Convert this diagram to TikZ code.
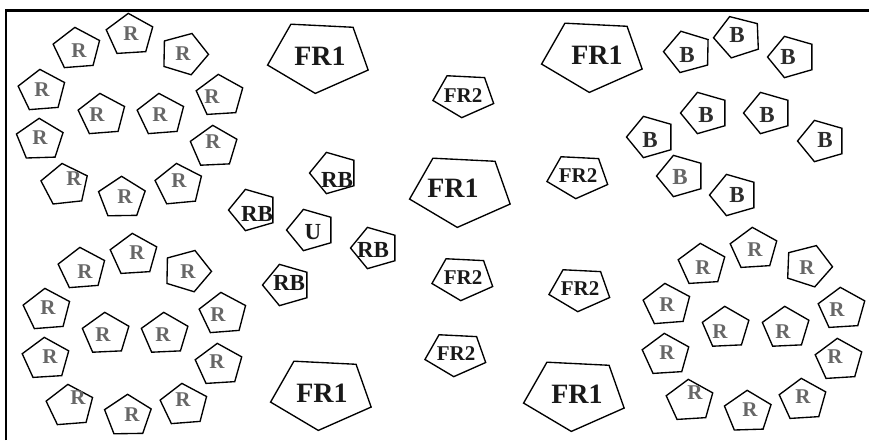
\documentclass[tikz,border=0pt]{standalone}
\usepackage{fontspec}
\setmainfont{Liberation Serif}

\definecolor{rgray}{HTML}{676767}
\definecolor{bgray}{HTML}{2C2C2C}

\tikzset{
	pentline/.style={draw=black, line width=1.35pt, line join=miter},
	smallpent/.style={xscale=24.5, yscale=21.7},
	flatpent/.style={xscale=32, yscale=22.7},
	bigpent/.style={xscale=53, yscale=37.5},
	rlab/.style={inner sep=0pt, text=rgray, font=\fontsize{21}{21}\selectfont\bfseries},
	blab/.style={inner sep=0pt, text=bgray, font=\fontsize{23}{23}\selectfont\bfseries},
	rblab/.style={inner sep=0pt, text=black!90, font=\fontsize{23}{23}\selectfont\bfseries},
	fralab/.style={inner sep=0pt, text=black!90, font=\fontsize{28}{28}\selectfont\bfseries},
	frblab/.style={inner sep=0pt, text=black!90, font=\fontsize{21}{21}\selectfont\bfseries}
}

% name, centre, rotation, size, label style, label at, text
\newcommand{\pent}[7]{%
	\draw[pentline, shift={#2}, #4, rotate=#3] (90:1pt) -- (162:1pt) -- (234:1pt) -- (306:1pt) -- (18:1pt) -- cycle;
	\node[#5] (#1) at #6 {#7};}

\begin{document}
\begin{tikzpicture}[x=1pt, y=-1pt]
	\useasboundingbox (0,0) rectangle (869,440);
	% Frame:
	\draw[line width=2.4pt] (6.2,440) |- (869,10.5);
	% R cluster, top left:
	\pent{r1}{(77,49)}{5}{smallpent}{rlab}{(79,51)}{R}
	\pent{r2}{(130,35)}{4}{smallpent}{rlab}{(131,34)}{R}
	\pent{r3}{(184,54)}{-19}{smallpent}{rlab}{(183,54)}{R}
	\pent{r4}{(42,91)}{5}{smallpent}{rlab}{(42,90)}{R}
	\pent{r5}{(102,115)}{5}{smallpent}{rlab}{(97,115)}{R}
	\pent{r6}{(161,115)}{5}{smallpent}{rlab}{(160,115)}{R}
	\pent{r7}{(220,96)}{4}{smallpent}{rlab}{(212,97)}{R}
	\pent{r8}{(40,140)}{2}{smallpent}{rlab}{(40,138)}{R}
	\pent{r9}{(214,147)}{3}{smallpent}{rlab}{(213,142)}{R}
	\pent{r10}{(65,185)}{7}{smallpent}{rlab}{(74,179)}{R}
	\pent{r11}{(122,198)}{1}{smallpent}{rlab}{(125,197)}{R}
	\pent{r12}{(179,185)}{6}{smallpent}{rlab}{(179,181)}{R}
	% R cluster, bottom left:
	\pent{l1}{(82,269)}{5}{smallpent}{rlab}{(85,272)}{R}
	\pent{l2}{(134,255)}{4}{smallpent}{rlab}{(137,253)}{R}
	\pent{l3}{(187,271)}{-19}{smallpent}{rlab}{(188,272)}{R}
	\pent{l4}{(47,310)}{5}{smallpent}{rlab}{(48,308)}{R}
	\pent{l5}{(106,334)}{3}{smallpent}{rlab}{(103,335)}{R}
	\pent{l6}{(165,334)}{3}{smallpent}{rlab}{(163,335)}{R}
	\pent{l7}{(223,314)}{5}{smallpent}{rlab}{(218,315)}{R}
	\pent{l8}{(46,359)}{4}{smallpent}{rlab}{(50,357)}{R}
	\pent{l9}{(219,365)}{4}{smallpent}{rlab}{(217,362)}{R}
	\pent{l10}{(70,406)}{5}{smallpent}{rlab}{(78,398)}{R}
	\pent{l11}{(128,416)}{1}{smallpent}{rlab}{(132,415)}{R}
	\pent{l12}{(184,405)}{5}{smallpent}{rlab}{(183,400)}{R}
	% R cluster, bottom right:
	\pent{q1}{(702,265)}{4}{smallpent}{rlab}{(703,268)}{R}
	\pent{q2}{(754,249)}{4}{smallpent}{rlab}{(755,250)}{R}
	\pent{q3}{(808,266)}{-20}{smallpent}{rlab}{(807,268)}{R}
	\pent{q4}{(667,305)}{5}{smallpent}{rlab}{(667,305)}{R}
	\pent{q5}{(726,328)}{3}{smallpent}{rlab}{(720,332)}{R}
	\pent{q6}{(786,328)}{3}{smallpent}{rlab}{(783,332)}{R}
	\pent{q7}{(842,309)}{4}{smallpent}{rlab}{(837,310)}{R}
	\pent{q8}{(666,355)}{4}{smallpent}{rlab}{(667,353)}{R}
	\pent{q9}{(839,360)}{4}{smallpent}{rlab}{(835,357)}{R}
	\pent{q10}{(690,401)}{4}{smallpent}{rlab}{(695,393)}{R}
	\pent{q11}{(748,412)}{2}{smallpent}{rlab}{(750,410)}{R}
	\pent{q12}{(803,400)}{4}{smallpent}{rlab}{(803,397)}{R}
	% B cluster:
	\pent{b1}{(688,52)}{17}{smallpent}{blab}{(687,55)}{B}
	\pent{b2}{(738,37)}{20}{smallpent}{blab}{(737,35)}{B}
	\pent{b3}{(792,57)}{18}{smallpent}{blab}{(788,57)}{B}
	\pent{b4}{(705,113)}{18}{smallpent}{blab}{(706,115)}{B}
	\pent{b5}{(768,113)}{18}{smallpent}{blab}{(767,115)}{B}
	\pent{b6}{(822,141)}{18}{smallpent}{blab}{(825,140)}{B}
	\pent{b7}{(651,137)}{18}{smallpent}{blab}{(650,140)}{B}
	\pent{b8}{(681,176)}{18}{smallpent}{blab, text=rgray}{(680,177)}{B}
	\pent{b9}{(734,195)}{18}{smallpent}{blab}{(737,195)}{B}
	% RB and U:
	\pent{rb1}{(334,173)}{18}{smallpent}{rblab}{(337,180)}{RB}
	\pent{rb2}{(253,210)}{18}{smallpent}{rblab}{(257,214)}{RB}
	\pent{u}{(311,230)}{18}{smallpent}{rblab}{(313,232)}{U}
	\pent{rb3}{(375,248)}{18}{smallpent}{rblab}{(373,250)}{RB}
	\pent{rb4}{(287,285)}{18}{smallpent}{rblab}{(289,283)}{RB}
	% FR1:
	\pent{fra}{(319,56)}{176}{bigpent}{fralab}{(320,56)}{FR1}
	\pent{frb}{(461,190)}{176}{bigpent}{fralab}{(453,188)}{FR1}
	\pent{frc}{(593,55)}{176}{bigpent}{fralab}{(597,55)}{FR1}
	\pent{frd}{(322,393)}{176}{bigpent}{fralab}{(322,393)}{FR1}
	\pent{fre}{(575,394)}{176}{bigpent}{fralab}{(577,394)}{FR1}
	% FR2:
	\pent{fa}{(464,95)}{176}{flatpent}{frblab}{(463,96)}{FR2}
	\pent{fb}{(578,176)}{176}{flatpent}{frblab}{(578,176)}{FR2}
	\pent{fc}{(463,278)}{176}{flatpent}{frblab}{(463,278)}{FR2}
	\pent{fd}{(580,289)}{176}{flatpent}{frblab}{(580,289)}{FR2}
	\pent{fe}{(456,354)}{176}{flatpent}{frblab}{(456,354)}{FR2}
\end{tikzpicture}
\end{document}
